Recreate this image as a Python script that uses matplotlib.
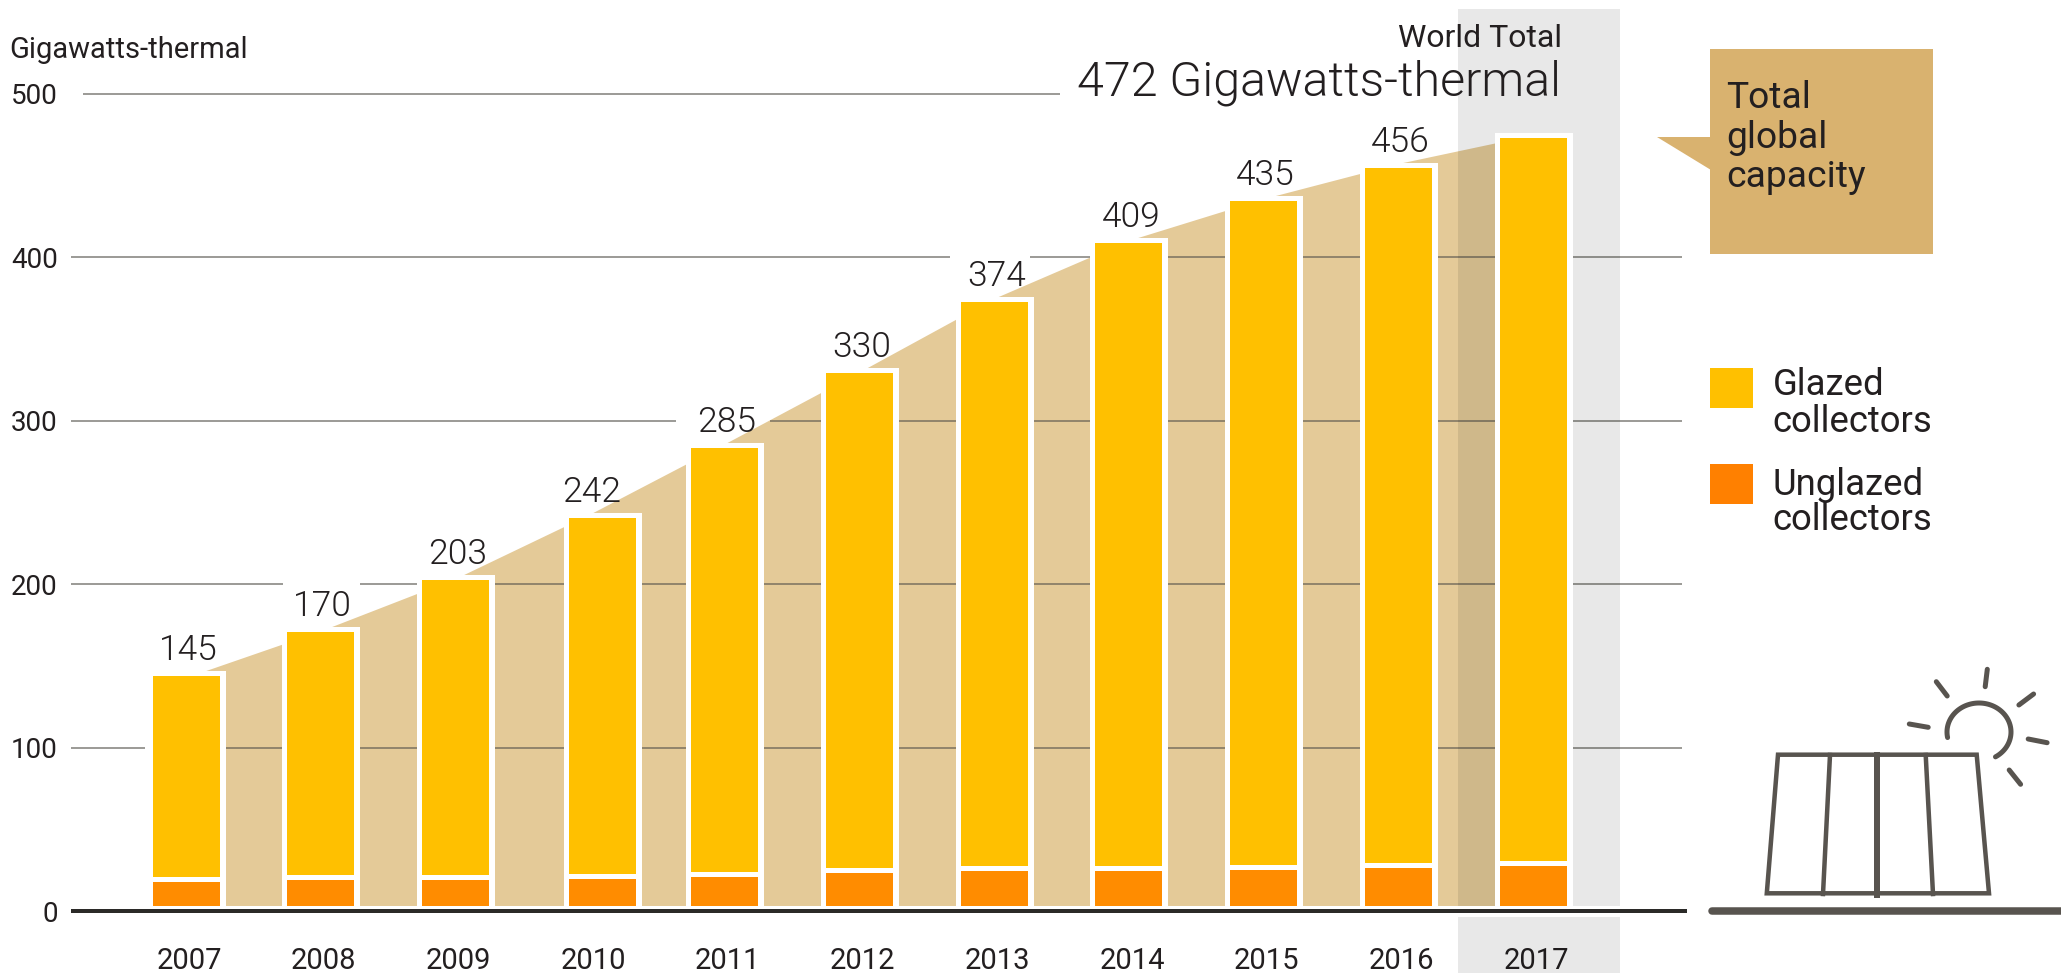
import numpy as np
import matplotlib
matplotlib.use('Agg')
import matplotlib.pyplot as plt
import matplotlib.patheffects as pe
from matplotlib.patches import Polygon, Rectangle

plt.rcParams['font.family'] = ['Roboto', 'DejaVu Sans']

years = np.arange(2007, 2018)
# bar heights
unglazed = np.array([17.7, 18.8, 18.8, 19.8, 20.8, 23, 24.3, 24.3, 25.3, 26.3, 27.5])
glazed = np.array([126.3, 152.2, 184, 220.5, 262.6, 306, 348.7, 384.5, 409.2, 428.7, 445.5])
# top edge of the tan area behind the bars
area_top = [143, 171.5, 203.5, 243, 286, 330, 375, 410.5, 436, 457.5, 475]
total_labels = ['145', '170', '203', '242', '285', '330', '374', '409', '435', '456']
y_ticks = [0, 100, 200, 300, 400, 500]

yellow = '#FFC000'
orange = '#FF8C00'
tan = '#E4CA98'
box_col = '#D9B26F'
ink = '#231F20'
icon_col = '#58544F'

W, H = 2061, 973
PX = 0.72  # points per pixel at dpi 100
x_per_px = 1 / 134.7
y_per_px = 1 / 1.634


def xp(px):
    return 2007 + (px - 186) * x_per_px


fig = plt.figure(figsize=(W / 100, H / 100), dpi=100)
left, right, top, bottom = 70.5, 1682, 9.3, 911
ax = fig.add_axes([left / W, 1 - bottom / H, (right - left) / W, (bottom - top) / H])
ax.set_xlim(xp(left), xp(right))
ax.set_ylim(0, (bottom - top) * y_per_px)
for s in ax.spines.values():
    s.set_visible(False)

# area
ax.fill_between(years, 0, area_top, color=tan, lw=0, zorder=1)

# grid pieces, broken where the labels sit
grid_parts = {
    100: [(70.5, 145.3), (223, 1682)],
    200: [(70.5, 283), (360, 1682)],
    300: [(70.5, 676), (770, 1682)],
    400: [(70.5, 950), (1030, 1682)],
    500: [(82.6, 1060)],
}
for val, parts in grid_parts.items():
    for a, b in parts:
        ax.plot([xp(a), xp(b)], [val, val], color='#55524C', alpha=0.68, lw=1.4 * PX * 1.2,
                solid_capstyle='butt', zorder=1.5)

# grey band for 2017, darkens what is under it
ax.fill_between([xp(1458), xp(1619.5)], -37.9, (bottom - top) * y_per_px, color='#000503', alpha=0.09,
                lw=0, clip_on=False, zorder=2)

# bars
bar_x = years.astype(float)
bar_x[3] += 12 * x_per_px
bar_w = 67 * x_per_px
halo = [pe.withStroke(linewidth=11 * PX, foreground='white')]
bars_g = ax.bar(bar_x, glazed, bar_w, bottom=unglazed, color=yellow, lw=0, zorder=3)
bars_u = ax.bar(bar_x, unglazed, bar_w, color=orange, lw=0, zorder=3.2)
for r in list(bars_g) + list(bars_u):
    r.set_path_effects(halo)

# white strip and base line
ax.add_patch(Rectangle((xp(left), -3.7), xp(1700) - xp(left), 6.7, color='white', lw=0, clip_on=False, zorder=4))
ax.plot([xp(left), xp(1686.7)], [0, 0], color='#2B2A28', lw=4 * PX, solid_capstyle='butt', clip_on=False, zorder=5)

# value labels
tops = unglazed + glazed
for i, lab in enumerate(total_labels):
    ax.annotate(lab, (years[i] + 2 * x_per_px, tops[i]), xytext=(0, 16 * PX), textcoords='offset points',
                ha='center', va='baseline', fontsize=25.5, fontweight=300, color=ink, zorder=6)

ax.set_xticks(years + 3 * x_per_px, [str(y) for y in years])
ax.set_yticks(y_ticks)
ax.tick_params(axis='x', length=0, pad=36 * PX, labelsize=21, labelcolor=ink)
ax.tick_params(axis='y', length=0, pad=12.5 * PX, labelsize=20, labelcolor=ink)

# everything else is laid out in pixels
ov = fig.add_axes([0, 0, 1, 1], facecolor='none')
ov.set_xlim(0, W)
ov.set_ylim(H, 0)
ov.axis('off')

ov.text(9, 58, 'Gigawatts-thermal', fontsize=21, color=ink, va='baseline')
ov.text(1562, 46.7, 'World Total', fontsize=23, color=ink, ha='right', va='baseline')
ov.text(1561, 95.5, '472 Gigawatts-thermal', fontsize=34.8, fontweight=300, color=ink, ha='right', va='baseline')

# callout
ov.add_patch(Rectangle((1710, 49), 222.5, 205, color=box_col, lw=0))
ov.add_patch(Polygon([(1657, 137), (1711, 137), (1711, 170)], closed=True, color=box_col, lw=0))
for txt, yy in [('Total', 107.7), ('global', 147.7), ('capacity', 186.7)]:
    ov.text(1726, yy, txt, fontsize=26.8, color=ink, va='baseline')

# legend
ov.add_patch(Rectangle((1710, 368), 43, 40, color=yellow, lw=0))
ov.add_patch(Rectangle((1710, 464), 43, 40, color='#FF8000', lw=0))
for txt, yy in [('Glazed', 395), ('collectors', 432), ('Unglazed', 495), ('collectors', 530)]:
    ov.text(1772.7, yy, txt, fontsize=26.3, color=ink, va='baseline')

# solar panel icon
ov.plot([1712, 2061], [911, 911], color=icon_col, lw=7.5 * PX, solid_capstyle='round')
ov.add_patch(Polygon([(1778, 754.7), (1976.7, 754.7), (1989, 893.3), (1766.8, 893.3)], closed=True,
                     fill=False, edgecolor=icon_col, lw=4.5 * PX))
ov.plot([1830, 1823], [755, 894], color=icon_col, lw=4.5 * PX)
ov.plot([1877, 1877], [755, 895], color=icon_col, lw=6 * PX)
ov.plot([1925.7, 1933], [755, 894], color=icon_col, lw=4.5 * PX)
t = np.radians(np.linspace(169, 419, 80))
ov.plot(1979 + 32 * np.cos(t), 732 + 29 * np.sin(t), color=icon_col, lw=5 * PX, solid_capstyle='round')
rays = [((1987.3, 669.3), (1985.2, 686.7)), ((1936.3, 681.7), (1947.2, 696)), ((2033.6, 694), (2018.9, 705)),
        ((1909.3, 724), (1928.2, 727.3)), ((2028.2, 739), (2047.1, 742.7)), ((2009.2, 770), (2020.6, 784.3))]
for p, q in rays:
    ov.plot([p[0], q[0]], [p[1], q[1]], color=icon_col, lw=5 * PX, solid_capstyle='round')

fig.savefig('out.png', dpi=100)
